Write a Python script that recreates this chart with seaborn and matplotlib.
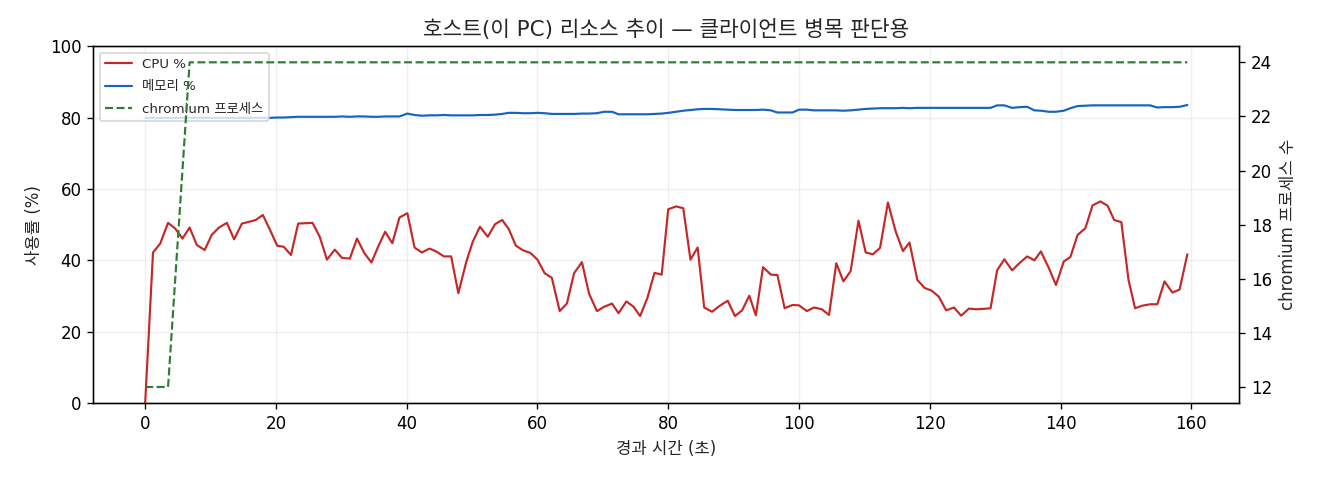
import matplotlib
matplotlib.use("Agg")
import matplotlib.pyplot as plt
import seaborn as sns
import pandas as pd

# elapsed seconds of each sample
elapsed = [
    0.0, 1.2, 2.3, 3.5, 4.6, 5.7, 6.8, 7.9, 9.1, 10.2, 11.3, 12.5, 13.6, 14.8, 15.9, 16.9,
    18.0, 19.1, 20.2, 21.2, 22.3, 23.4, 24.5, 25.6, 26.7, 27.8, 29.0, 30.1, 31.3, 32.4,
    33.5, 34.6, 35.7, 36.7, 37.8, 38.9, 40.1, 41.2, 42.3, 43.5, 44.5, 45.7, 46.8, 47.9,
    49.1, 50.1, 51.2, 52.4, 53.5, 54.6, 55.6, 56.7, 57.8, 58.9, 60.0, 61.1, 62.2, 63.4,
    64.5, 65.6, 66.8, 67.9, 69.1, 70.2, 71.4, 72.4, 73.6, 74.7, 75.7, 76.8, 77.9, 79.0,
    80.0, 81.2, 82.3, 83.4, 84.5, 85.5, 86.7, 87.9, 89.1, 90.2, 91.3, 92.4, 93.4, 94.5,
    95.7, 96.7, 97.8, 99.0, 100.0, 101.2, 102.3, 103.5, 104.6, 105.7, 106.8, 107.9, 109.1,
    110.2, 111.3, 112.4, 113.6, 114.8, 115.9, 116.9, 118.1, 119.2, 120.3, 121.4, 122.5,
    123.7, 124.8, 126.0, 127.1, 128.2, 129.3, 130.3, 131.4, 132.6, 133.7, 134.9, 136.0,
    137.0, 138.2, 139.3, 140.5, 141.5, 142.6, 143.8, 144.9, 146.1, 147.2, 148.2, 149.3,
    150.4, 151.4, 152.5, 153.7, 154.8, 155.9, 157.1, 158.2, 159.4,
]

cpu_pct = [
    0.0, 42.2, 44.7, 50.5, 48.9, 46.1, 49.2, 44.3, 42.9, 47.2, 49.2, 50.5, 45.9, 50.3, 50.8, 51.3,
    52.7, 48.5, 44.1, 43.8, 41.5, 50.3, 50.4, 50.5, 46.6, 40.2, 43.0, 40.7, 40.5, 46.1,
    42.1, 39.4, 44.1, 48.0, 44.8, 52.0, 53.2, 43.6, 42.2, 43.3, 42.5, 41.1, 41.1, 30.8,
    39.5, 45.2, 49.4, 46.6, 50.1, 51.3, 48.8, 44.1, 42.8, 42.1, 40.2, 36.4, 35.1, 25.8,
    27.9, 36.4, 39.5, 30.6, 25.8, 27.0, 27.9, 25.2, 28.5, 27.0, 24.4, 29.4, 36.5, 36.0,
    54.3, 55.1, 54.6, 40.2, 43.6, 26.8, 25.6, 27.3, 28.7, 24.4, 26.0, 30.1, 24.6, 38.1,
    36.0, 35.9, 26.6, 27.5, 27.4, 25.8, 26.8, 26.3, 24.7, 39.2, 34.1, 37.0, 51.1,
    42.2, 41.7, 43.5, 56.2, 48.0, 42.6, 45.0, 34.5, 32.3, 31.5, 29.8, 26.0,
    26.8, 24.5, 26.5, 26.3, 26.4, 26.6, 37.2, 40.3, 37.2, 39.2, 41.1, 40.0,
    42.5, 37.9, 33.1, 39.7, 40.9, 47.1, 49.0, 55.4, 56.5, 55.3, 51.3, 50.7,
    34.5, 26.6, 27.3, 27.7, 27.7, 34.1, 31.0, 31.8, 41.7,
]

mem_pct = [
    79.9, 79.9, 79.9, 79.9, 79.9, 79.9, 79.9, 79.9, 79.9, 79.9, 79.9, 79.9, 79.9, 79.9, 79.9, 79.9,
    79.9, 79.9, 80.0, 80.0, 80.1, 80.2, 80.2, 80.2, 80.2, 80.2, 80.2, 80.3, 80.2, 80.3,
    80.3, 80.2, 80.2, 80.3, 80.3, 80.3, 81.1, 80.7, 80.5, 80.6, 80.6, 80.7, 80.6, 80.6,
    80.6, 80.6, 80.7, 80.7, 80.8, 81.0, 81.3, 81.3, 81.2, 81.2, 81.3, 81.2, 81.0, 81.0,
    81.0, 81.0, 81.1, 81.1, 81.2, 81.6, 81.6, 80.9, 80.9, 80.9, 80.9, 80.9, 81.0, 81.1,
    81.3, 81.6, 81.9, 82.1, 82.3, 82.4, 82.4, 82.3, 82.2, 82.1, 82.1, 82.1, 82.1, 82.2,
    82.0, 81.4, 81.4, 81.4, 82.2, 82.2, 82.0, 82.0, 82.0, 82.0, 81.9, 82.0, 82.2,
    82.4, 82.5, 82.6, 82.6, 82.6, 82.7, 82.6, 82.7, 82.7, 82.7, 82.7, 82.7,
    82.7, 82.7, 82.7, 82.7, 82.7, 82.7, 83.4, 83.4, 82.7, 82.9, 83.0, 82.0,
    81.9, 81.6, 81.6, 81.9, 82.6, 83.2, 83.3, 83.4, 83.4, 83.4, 83.4, 83.4,
    83.4, 83.4, 83.4, 83.4, 82.8, 82.9, 82.9, 83.0, 83.5,
]

chromium_procs = [12, 12, 12, 12, 16, 20] + [24] * (len(elapsed) - 6)

df = pd.DataFrame({"t": elapsed, "cpu": cpu_pct, "mem": mem_pct, "procs": chromium_procs})

sns.set_style("ticks")
plt.rcParams['font.family'] = ['DejaVu Sans', 'Noto Sans CJK KR']
plt.rcParams['axes.edgecolor'] = 'black'
plt.rcParams['xtick.color'] = 'black'
plt.rcParams['ytick.color'] = 'black'

fig, ax = plt.subplots(figsize=(11, 4), dpi=120)
fig.subplots_adjust(left=0.0705, right=0.939, bottom=0.160, top=0.904)

sns.lineplot(data=df, x="t", y="cpu", ax=ax, color="#c62828", lw=1.3, label="CPU %")
sns.lineplot(data=df, x="t", y="mem", ax=ax, color="#1565c0", lw=1.3, label="메모리 %")
ax.set_ylim(0, 100)
ax.set_xlabel("경과 시간 (초)")
ax.set_ylabel("사용률 (%)")
ax.grid(True, alpha=0.3)

ax2 = ax.twinx()
sns.lineplot(data=df, x="t", y="procs", ax=ax2, color="#2e7d32", lw=1.3,
             linestyle="--", label="chromium 프로세스")
ax2.set_ylabel("chromium 프로세스 수")
ax2.legend_.remove()

h1, l1 = ax.get_legend_handles_labels()
h2, l2 = ax2.get_legend_handles_labels()
ax.legend(h1 + h2, l1 + l2, loc="upper left", fontsize=8, labelspacing=0.7)

ax.set_title("호스트(이 PC) 리소스 추이 — 클라이언트 병목 판단용", fontsize=12.8)

fig.savefig("out.png", dpi=120)
